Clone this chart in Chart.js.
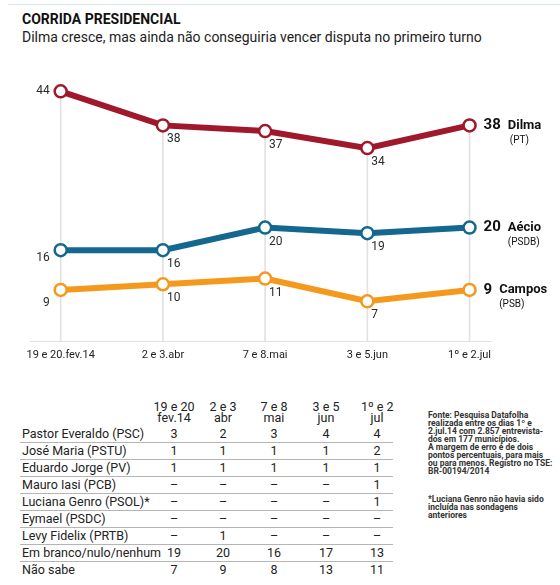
<!DOCTYPE html>
<html>
<head>
<meta charset="utf-8">
<script src="https://cdn.jsdelivr.net/npm/chart.js@4"></script>
<style>
  html,body{margin:0;padding:0;background:#fff;}
  body{width:560px;height:585px;position:relative;overflow:hidden;
       font-family:Roboto,"Liberation Sans",sans-serif;color:#222;}
  #topline{position:absolute;left:8px;top:4px;width:552px;height:1px;background:#d3e6f1;}
  #title{position:absolute;left:22px;top:11px;font-size:14px;line-height:16px;font-weight:bold;color:#111;}
  #subtitle{position:absolute;left:22px;top:29px;font-size:14px;line-height:16px;color:#222;}
  #chartbox{position:absolute;left:0;top:60px;width:560px;height:310px;}
  #tbl{position:absolute;left:20px;top:399px;border-collapse:collapse;table-layout:fixed;font-size:12.5px;color:#222;}
  #tbl td{padding:0;height:16px;line-height:16px;text-align:center;white-space:nowrap;}
  #tbl td.name{text-align:left;padding-left:2px;}
  #tbl tr.row td{border-bottom:1px solid #b5b5b5;}
  #tbl tr.last td{border-bottom:none;}
  #tbl tr.head td{height:24px;line-height:10.5px;vertical-align:bottom;padding-bottom:3px;font-size:12.5px;}
  #tbl td.c5{padding-left:9px;}
  .note{position:absolute;left:428px;font-size:8.5px;line-height:8px;font-weight:bold;color:#333;white-space:pre;}
  #note1{top:411px;}
  #note2{top:495px;}
</style>
</head>
<body>
<div id="topline"></div>
<div id="title">CORRIDA PRESIDENCIAL</div>
<div id="subtitle">Dilma cresce, mas ainda não conseguiria vencer disputa no primeiro turno</div>
<div id="chartbox"><canvas id="c" width="560" height="310"></canvas></div>
<table id="tbl"></table>
<div class="note" id="note1"></div>
<div class="note" id="note2"></div>
<script>
// ---- chart data ----
const categories = ['19 e 20.fev.14', '2 e 3.abr', '7 e 8.mai', '3 e 5.jun', '1º e 2.jul'];
const dilma  = [44, 38, 37, 34, 38];
const aecio  = [16, 16, 20, 19, 20];
const campos = [9, 10, 11, 7, 9];
const candidateNames = ['Dilma', 'Aécio', 'Campos'];
const candidateParties = ['(PT)', '(PSDB)', '(PSB)'];

// ---- table data ----
const tableHeaders = ['19 e 20|fev.14', '2 e 3|abr', '7 e 8|mai', '3 e 5|jun', '1º e 2|jul'];
const tableNames = ['Pastor Everaldo (PSC)', 'José Maria (PSTU)', 'Eduardo Jorge (PV)', 'Mauro Iasi (PCB)',
  'Luciana Genro (PSOL)*', 'Eymael (PSDC)', 'Levy Fidelix (PRTB)', 'Em branco/nulo/nenhum', 'Não sabe'];
const pastorEveraldo = [3, 2, 3, 4, 4];
const joseMaria      = [1, 1, 1, 1, 2];
const eduardoJorge   = [1, 1, 1, 1, 1];
const mauroIasi      = [null, null, null, null, 1];
const lucianaGenro   = [null, null, null, null, 1];
const eymael         = [null, null, null, null, null];
const levyFidelix    = [null, 1, null, null, null];
const emBranco       = [19, 20, 16, 17, 13];
const naoSabe        = [7, 9, 8, 13, 11];
const tableRows = [pastorEveraldo, joseMaria, eduardoJorge, mauroIasi, lucianaGenro, eymael, levyFidelix, emBranco, naoSabe];

const noteSource = 'Fonte: Pesquisa Datafolha\nrealizada entre os dias 1º e\n2.jul.14 com 2.857 entrevista-\ndos em 177 municípios.\nA margem de erro é de dois\npontos percentuais, para mais\nou para menos. Registro no TSE:\nBR-00194/2014';
const noteFootnote = '*Luciana Genro não havia sido\nincluída nas sondagens\nanteriores';

// ---- build table ----
(function(){
  const tbl = document.getElementById('tbl');
  const widths = [130, 48, 50, 52, 52, 41];
  const cg = document.createElement('colgroup');
  widths.forEach(w => { const c = document.createElement('col'); c.style.width = w + 'px'; cg.appendChild(c); });
  tbl.appendChild(cg);
  tbl.style.width = widths.reduce((a,b)=>a+b,0) + 'px';
  const hr = document.createElement('tr'); hr.className = 'head';
  hr.appendChild(document.createElement('td'));
  tableHeaders.forEach((h,i) => {
    const td = document.createElement('td');
    if (i === 4) td.className = 'c5';
    td.innerHTML = h.split('|').join('<br>');
    hr.appendChild(td);
  });
  tbl.appendChild(hr);
  tableNames.forEach((n, r) => {
    const tr = document.createElement('tr');
    tr.className = 'row' + (r === tableNames.length - 1 ? ' last' : '');
    const tdn = document.createElement('td'); tdn.className = 'name'; tdn.textContent = n; tr.appendChild(tdn);
    tableRows[r].forEach((v, i) => {
      const td = document.createElement('td');
      if (i === 4) td.className = 'c5';
      td.textContent = v === null ? '–' : String(v);
      tr.appendChild(td);
    });
    tbl.appendChild(tr);
  });
  document.getElementById('note1').textContent = noteSource;
  document.getElementById('note2').textContent = noteFootnote;
})();

// ---- chart ----
const FONT = 'Roboto, "Liberation Sans", sans-serif';
const colors = ['#a0182b', '#14678f', '#f4991d'];
const firstDy = [0, 8, 13];
const series = [dilma, aecio, campos];

const toPts = arr => arr.map((v, i) => ({ x: i, y: v }));

const labelPlugin = {
  id: 'labels',
  afterDatasetsDraw(chart) {
    const ctx = chart.ctx;
    ctx.save();
    chart.data.datasets.forEach((ds, di) => {
      if (ds.type === 'bar') return;
      const meta = chart.getDatasetMeta(di);
      const si = ds.seriesIndex;
      const n = meta.data.length;
      meta.data.forEach((pt, i) => {
        const v = ds.data[i].y;
        ctx.fillStyle = '#2a2a2a';
        if (i === 0) {
          ctx.font = '12px ' + FONT;
          ctx.textAlign = 'right'; ctx.textBaseline = 'middle';
          ctx.fillText(String(v), pt.x - 11, pt.y + firstDy[si]);
        } else if (i === n - 1) {
          ctx.fillStyle = '#111';
          ctx.font = 'bold 15px ' + FONT;
          ctx.textAlign = 'left'; ctx.textBaseline = 'middle';
          const vx = pt.x + 14;
          ctx.fillText(String(v), vx, pt.y);
          const w = ctx.measureText(String(v)).width;
          ctx.font = 'bold 13px ' + FONT;
          const nx = vx + w + 7;
          ctx.fillText(candidateNames[si], nx, pt.y);
          ctx.font = '10px ' + FONT;
          ctx.fillText(candidateParties[si], nx + (si === 0 ? 2 : 0), pt.y + 15);
        } else {
          ctx.font = '12px ' + FONT;
          ctx.textAlign = 'left'; ctx.textBaseline = 'top';
          ctx.fillText(String(v), pt.x + 4, pt.y + 8);
        }
      });
    });
    ctx.restore();
  }
};

const lineDs = series.map((arr, si) => ({
  type: 'line',
  seriesIndex: si,
  data: toPts(arr),
  borderColor: colors[si],
  borderWidth: 6,
  pointRadius: 6,
  pointHoverRadius: 6,
  pointBorderWidth: 2.5,
  pointBackgroundColor: '#ffffff',
  pointBorderColor: colors[si],
  tension: 0,
  clip: false,
  order: 3 - si
}));

new Chart(document.getElementById('c'), {
  type: 'line',
  data: {
    datasets: [
      {
        type: 'bar',
        data: toPts(dilma),
        backgroundColor: '#e2e2e2',
        barThickness: 1,
        order: 10
      },
      ...lineDs
    ]
  },
  options: {
    responsive: false,
    animation: false,
    events: [],
    layout: { padding: { left: 30, right: 70, top: 20, bottom: 0 } },
    plugins: { legend: { display: false }, tooltip: { enabled: false } },
    scales: {
      x: {
        type: 'linear',
        offset: false,
        min: -0.3,
        max: 4.2,
        grid: { display: false, drawTicks: false, offset: false },
        border: { display: true, color: '#e0e0e0', width: 1 },
        afterBuildTicks: (scale) => { scale.ticks = categories.map((c, i) => ({ value: i })); },
        afterFit: (scale) => { scale.height = 29; scale.paddingLeft = 0; scale.paddingRight = 0; },
        ticks: {
          autoSkip: false,
          maxRotation: 0,
          padding: 8,
          color: '#222',
          font: { family: FONT, size: 11 },
          callback: (v) => categories[v]
        }
      },
      y: {
        display: false,
        min: 0,
        max: 46
      }
    }
  },
  plugins: [labelPlugin]
});
</script>
</body>
</html>
